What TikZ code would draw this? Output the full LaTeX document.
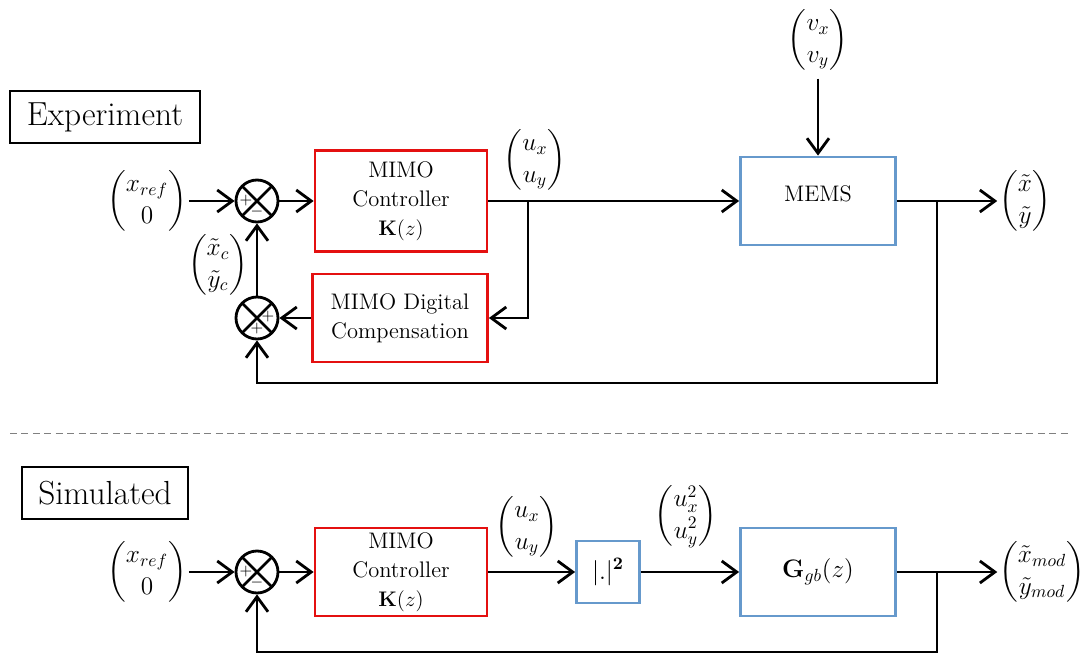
\documentclass[tikz,border=0pt]{standalone}
\usepackage{amsmath}
\usetikzlibrary{arrows.meta}
\definecolor{ctrlred}{RGB}{228,16,16}
\definecolor{plantblue}{RGB}{102,153,204}
\tikzset{
	blk/.style={draw, line width=1.6pt, align=center, font=\fontsize{12.8}{16.5}\selectfont, inner sep=2pt},
	ctrlblk/.style={blk, draw=ctrlred},
	plantblk/.style={blk, draw=plantblue},
	sumpt/.style={circle, draw, line width=1.6pt, minimum size=0.84cm, inner sep=0pt,
		path picture={\draw[line width=1.6pt] (path picture bounding box.north west) -- (path picture bounding box.south east)
			(path picture bounding box.south west) -- (path picture bounding box.north east);}},
	sig/.style={-{Straight Barb[length=3mm,width=4.4mm]}, line width=1.6pt},
	sgn/.style={font=\small, inner sep=0pt},
	vec/.style={font=\Large, inner sep=1pt},
	tag/.style={draw, line width=1pt, font=\fontsize{19}{22}\selectfont, minimum height=1.04cm, inner xsep=6pt}
}
\begin{document}
\begin{tikzpicture}[x=0.02cm, y=-0.02cm, every node/.append style={font=\large}]
		\useasboundingbox (0,0) rectangle (1084,655);
		% experiment
		\node[tag, minimum width=3.8cm] (Experiment) at (105,117) {Experiment};
		\node[ctrlblk, minimum width=3.44cm, minimum height=2.02cm] (Controller top) at (401,201) {MIMO\\Controller\\$\mathbf{K}(z)$};
		\node[ctrlblk, minimum width=3.5cm, minimum height=1.76cm] (Compensation) at (400,318) {MIMO Digital\\Compensation};
		\node[plantblk, minimum width=3.1cm, minimum height=1.76cm, text depth=9pt] (MEMS) at (818,201) {MEMS};
		\node[sumpt] (Sum comp) at (257,318) {};
		\node[sgn] at ([shift={(11,-1)}]Sum comp) {$+$};
		\node[sgn] at ([shift={(0,11)}]Sum comp) {$+$};
		\node[vec, inner sep=0pt, outer sep=4pt] (Disturbance) at (818,40) {$\begin{pmatrix} v_x\\ v_y\end{pmatrix}$};
		\node[vec] (Out top) at (1025,201) {$\begin{pmatrix} \tilde{x}\\ \tilde{y}\end{pmatrix}$};
		\node[vec] at (535,160) {$\begin{pmatrix} u_x\\ u_y\end{pmatrix}$};
		\node[vec] at (218,265) {$\begin{pmatrix} \tilde{x}_c\\ \tilde{y}_c\end{pmatrix}$};
		\coordinate (Split top) at (528,201);
		\coordinate (Meas top) at (937,201);
		% simulated
		\node[tag, minimum width=3.32cm] (Simulated) at (105,493) {Simulated};
		\node[ctrlblk, minimum width=3.44cm, minimum height=1.76cm] (Controller bot) at (401,572) {MIMO\\Controller\\$\mathbf{K}(z)$};
		\node[plantblk, minimum width=1.26cm, minimum height=1.24cm, font=\Large] (Square) at (608,572) {$|.|^{\mathbf{2}}$};
		\node[plantblk, minimum width=3.1cm, minimum height=1.76cm, font=\fontsize{14}{17}\selectfont] (Model) at (818,572) {$\mathbf{G}_{gb}(z)$};
		\node[vec] (Out bot) at (1042,572) {$\begin{pmatrix} \tilde{x}_{mod}\\ \tilde{y}_{mod}\end{pmatrix}$};
		\node[vec] at (527,527) {$\begin{pmatrix} u_x\\ u_y\end{pmatrix}$};
		\node[vec] at (686,516) {$\begin{pmatrix} u_x^2\\ u_y^2\end{pmatrix}$};
		\coordinate (Meas bot) at (937,572);
		% inputs and comparators
		\foreach \y/\n in {201/top,572/bot}{
				\node[vec] (Ref \n) at (147,\y) {$\begin{pmatrix} x_{ref}\\ 0\end{pmatrix}$};
				\node[sumpt] (Sum \n) at (257,\y) {};
				\node[sgn] at ([shift={(-11,0)}]Sum \n) {$+$};
				\node[sgn] at ([shift={(0,11)}]Sum \n) {$-$};
				\draw[sig] (Ref \n) -- (Sum \n);
				\draw[sig] (Sum \n) -- (Controller \n);
			};
		\draw[line width=1.6pt] (Controller top) -- (Split top);
		\draw[sig] (Split top) -- (MEMS);
		\draw[sig] (Split top) |- (Compensation);
		\draw[sig] (Compensation) -- (Sum comp);
		\draw[sig] (Sum comp) -- (Sum top);
		\draw[sig] (Disturbance) -- (MEMS);
		\draw[sig] (MEMS) -- (Out top);
		\draw[sig] (Meas top) -- ++(0,182) -| (Sum comp);
		\draw[sig] (Controller bot) -- (Square);
		\draw[sig] (Square) -- (Model);
		\draw[sig] (Model) -- (Out bot);
		\draw[sig] (Meas bot) -- ++(0,80) -| (Sum bot);
		\draw[dashed, dash pattern=on 4pt off 2.5pt, line width=0.5pt, gray] (10,433) -- (1068,433);
	\end{tikzpicture}
\end{document}
